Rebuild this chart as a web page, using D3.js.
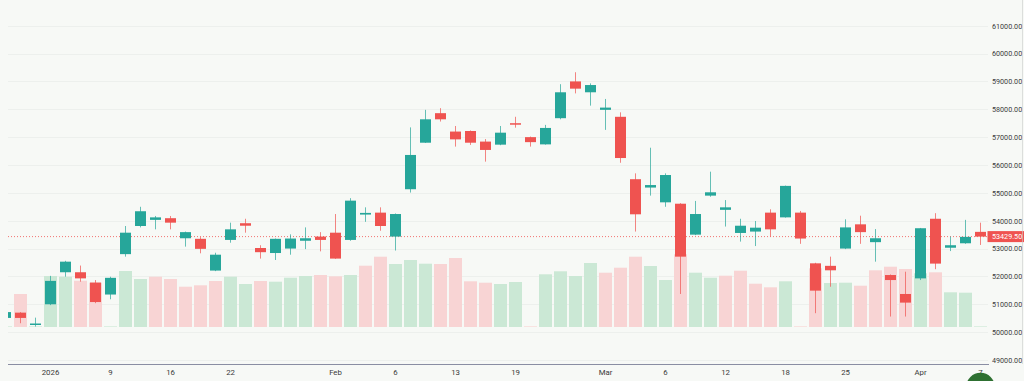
<!DOCTYPE html>
<html>
<head>
<meta charset="utf-8">
<script src="https://cdn.jsdelivr.net/npm/d3@7"></script>
<style>
  html, body { margin: 0; padding: 0; background: #f7f9f6; }
  svg { display: block; }
  text { font-family: Roboto, "Liberation Sans", sans-serif; }
</style>
</head>
<body>
<svg id="chart"></svg>
<script>
// daily OHLC
const open = [50510, 50700, 50280, 51000, 52150, 52150, 51780, 51350, 52800, 53810,
  54030, 54090, 53370, 53350, 52210, 53310, 53910, 53020, 52840, 53000,
  53280, 53430, 53570, 53310, 54220, 54290, 53430, 55130, 56800, 57860,
  57200, 57220, 56840, 56730, 57500, 57000, 56740, 57680, 59000, 58610,
  57980, 57730, 55490, 55190, 54660, 54610, 53500, 54900, 54390, 53560,
  53610, 54290, 54120, 54290, 52470, 52380, 53000, 53870, 53230, 52050,
  51370, 51930, 54070, 53030, 53190, 53600]
const high = [50750, 50720, 50520, 52020, 52560, 52390, 51870, 51990, 53810, 54500,
  54170, 54170, 53610, 53410, 52850, 53930, 54070, 53120, 53360, 53510,
  53760, 53590, 54240, 54810, 54480, 54480, 54260, 57350, 57980, 58040,
  57400, 57240, 56930, 57400, 57730, 57020, 57440, 58900, 59330, 58930,
  58370, 57890, 55700, 56620, 55700, 54630, 54710, 55760, 54740, 54070,
  53990, 54410, 55260, 54350, 52490, 52710, 54050, 54180, 53700, 52070,
  52170, 53740, 54270, 53430, 54030, 53930]
const low = [50480, 50320, 50200, 50970, 51990, 51810, 51040, 51180, 52710, 53760,
  53690, 53690, 53070, 52830, 52190, 53210, 53570, 52640, 52590, 52780,
  52980, 52900, 52630, 53280, 53960, 53640, 52930, 55010, 56790, 57560,
  56660, 56720, 56120, 56710, 57340, 56660, 56730, 57640, 58570, 58130,
  57260, 56080, 53610, 54900, 54500, 51370, 53480, 54860, 53790, 53250,
  53090, 53430, 54110, 53170, 50680, 51630, 52980, 53170, 52530, 50560,
  50560, 51870, 52260, 52910, 53170, 53130]
const close = [50720, 50510, 50310, 51840, 52530, 51930, 51080, 51950, 53570, 54340,
  54120, 53930, 53590, 52990, 52780, 53690, 53820, 52870, 53350, 53360,
  53370, 53310, 52640, 54720, 54280, 53810, 54240, 56360, 57640, 57640,
  56920, 56800, 56540, 57160, 57450, 56820, 57330, 58610, 58740, 58870,
  58060, 56250, 54230, 55280, 55640, 52710, 54240, 55020, 54480, 53820,
  53750, 53690, 55250, 53360, 51490, 52220, 53760, 53590, 53370, 51870,
  51060, 53730, 52460, 53120, 53420, 53429.5]

// volume (thousands) and its colour flag, 1 = green
const volume = [0, 33, 0, 51, 50.3, 46.3, 44.3, 0, 56, 48,
  50.3, 48, 40.3, 41.7, 46, 50.3, 43, 46, 45.3, 49.3,
  51, 52, 50.7, 52, 61.3, 70.3, 63, 67, 63.3, 63,
  69, 45.7, 44.3, 43, 45, 0, 52.7, 55.7, 51, 64,
  54.3, 59.3, 70.3, 61, 47, 72.7, 54.3, 49.3, 51.3, 56.3,
  43.3, 39.7, 45.7, 0, 58.7, 44, 44.3, 41.3, 56.7, 60.3,
  58, 53.7, 54.7, 34.7, 34.3, 0]
const volUp = [1, 0, 1, 1, 1, 0, 0, 1, 1, 1,
  0, 0, 0, 0, 0, 1, 1, 0, 1, 1,
  1, 0, 0, 1, 0, 0, 1, 1, 1, 0,
  0, 0, 0, 1, 1, 0, 1, 1, 1, 1,
  0, 0, 0, 1, 1, 0, 1, 1, 0, 0,
  0, 0, 1, 0, 0, 1, 1, 0, 0, 0,
  0, 1, 0, 1, 1, 1]

// time axis labels and the bar they sit under
const tickIdx = [3, 7, 11, 15, 22, 26, 30, 34, 40, 44, 48, 52, 56, 61, 65]
const tickLabels = ['2026', '9', '16', '22', 'Feb', '6', '13', '19', 'Mar', '6', '12', '18', '25', 'Apr', '7']

const priceTicks = d3.range(49000, 61001, 1000)

const width = 1024,
  height = 381,
  plotLeft = 8,
  plotRight = 988,
  axisY = 364,
  fontSize = 7.2

const upColor = '#26a69a',
  downColor = '#ef5350'

const n = open.length

const svg = d3.select('#chart')
  .attr('width', width)
  .attr('height', height)

const x = d3.scaleBand().domain(d3.range(n)).range([-2, plotRight])
const y = d3.scaleLinear().domain([49000, 61000]).range([360, 25.7])
const yVol = d3.scaleLinear().domain([0, 80]).range([327, 247])

const cx = i => x(i) + x.bandwidth() / 2

svg.append('defs').append('clipPath').attr('id', 'plot-clip')
  .append('rect')
  .attr('x', plotLeft).attr('y', 0)
  .attr('width', plotRight - plotLeft).attr('height', axisY)

// horizontal grid
svg.append('g')
  .selectAll('line')
  .data(priceTicks)
  .join('line')
  .attr('x1', plotLeft).attr('x2', plotRight)
  .attr('y1', d => Math.round(y(d)) + 0.5)
  .attr('y2', d => Math.round(y(d)) + 0.5)
  .attr('stroke', '#edf0ed')

let plot = svg.append('g').attr('clip-path', 'url(#plot-clip)')

// volume bars behind the candles
plot.append('g')
  .selectAll('rect')
  .data(d3.range(n))
  .join('rect')
  .attr('x', i => cx(i) - 6.5)
  .attr('width', 13)
  .attr('y', i => Math.min(yVol(volume[i]), yVol(0) - 1))
  .attr('height', i => Math.max(1, yVol(0) - yVol(volume[i])))
  .attr('fill', i => volUp[i] ? '#cbe8d5' : '#f8d4d4')
  .attr('opacity', i => volume[i] ? 1 : 0.6)

// last price line
plot.append('line')
  .attr('x1', plotLeft).attr('x2', plotRight)
  .attr('y1', y(close[n - 1])).attr('y2', y(close[n - 1]))
  .attr('stroke', downColor)
  .attr('stroke-opacity', 0.8)
  .attr('stroke-dasharray', '1,2')

let candles = plot.append('g')
  .selectAll('g')
  .data(d3.range(n))
  .join('g')

candles.append('line')
  .attr('x1', cx).attr('x2', cx)
  .attr('y1', i => y(high[i]))
  .attr('y2', i => y(low[i]))
  .attr('stroke', i => close[i] >= open[i] ? upColor : downColor)
  .attr('stroke-opacity', 0.7)

candles.append('rect')
  .attr('x', i => cx(i) - 5.5)
  .attr('width', 11)
  .attr('y', i => y(Math.max(open[i], close[i])))
  .attr('height', i => Math.max(1.5, Math.abs(y(open[i]) - y(close[i]))))
  .attr('fill', i => close[i] >= open[i] ? upColor : downColor)

// price scale
let priceAxis = d3.axisRight(y)
  .tickValues(priceTicks)
  .tickFormat(d3.format('.2f'))
  .tickSize(0)
  .tickPadding(0)

let yAxisG = svg.append('g')
  .attr('transform', 'translate(992,0)')
  .call(priceAxis)
yAxisG.select('.domain').remove()
yAxisG.selectAll('text')
  .attr('font-size', fontSize)
  .attr('fill', '#3a3a3a')
  .attr('font-family', 'Roboto, sans-serif')

// last price badge
let last = close[n - 1]
svg.append('rect')
  .attr('x', 987.5).attr('y', y(last) - 5.5)
  .attr('width', 40).attr('height', 11)
  .attr('fill', downColor)
svg.append('text')
  .attr('x', 992).attr('y', y(last))
  .attr('dy', '0.35em')
  .attr('font-size', fontSize)
  .attr('fill', '#fff')
  .text(d3.format('.2f')(last))

// right border
svg.append('line')
  .attr('x1', 1022.5).attr('x2', 1022.5)
  .attr('y1', 0).attr('y2', axisY)
  .attr('stroke', '#c9cccc')
  .attr('stroke-opacity', 0.6)

// time scale
let timeAxis = d3.axisBottom(x)
  .tickValues(tickIdx)
  .tickFormat((d, i) => tickLabels[i])
  .tickSize(0)
  .tickPadding(5)

let xAxisG = svg.append('g')
  .attr('transform', `translate(0,${axisY})`)
  .call(timeAxis)
xAxisG.select('.domain').remove()
xAxisG.selectAll('text')
  .attr('font-size', 7.8)
  .attr('fill', '#3a3a3a')
  .attr('font-family', 'Roboto, sans-serif')

svg.append('line')
  .attr('x1', plotLeft).attr('x2', plotRight + 1)
  .attr('y1', axisY + 0.5).attr('y2', axisY + 0.5)
  .attr('stroke', '#8a8ea3')

// round badge at the bottom corner
svg.append('circle')
  .attr('cx', 980.5).attr('cy', 387)
  .attr('r', 14.3)
  .attr('fill', '#2e7031')
</script>
</body>
</html>
